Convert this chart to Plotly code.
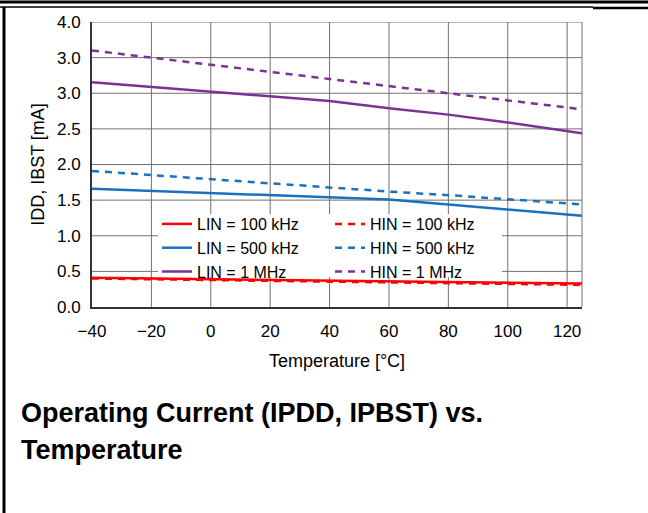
import plotly.graph_objects as go

# ---- data ----
temps = [-40, -20, 0, 20, 40, 60, 80, 100, 120, 125]
lin_100k = [0.41, 0.40, 0.39, 0.38, 0.37, 0.36, 0.35, 0.34, 0.33, 0.33]
hin_100k = [0.40, 0.39, 0.38, 0.37, 0.36, 0.35, 0.34, 0.33, 0.32, 0.31]
lin_500k = [1.66, 1.63, 1.60, 1.57, 1.54, 1.51, 1.44, 1.37, 1.30, 1.28]
hin_500k = [1.91, 1.85, 1.80, 1.74, 1.68, 1.62, 1.57, 1.51, 1.45, 1.44]
lin_1m = [3.155, 3.09, 3.03, 2.96, 2.89, 2.79, 2.70, 2.59, 2.47, 2.44]
hin_1m = [3.60, 3.50, 3.40, 3.31, 3.20, 3.10, 3.00, 2.90, 2.80, 2.77]

y_tickvals = [0.0, 0.5, 1.0, 1.5, 2.0, 2.5, 3.0, 3.5, 4.0]
y_ticktext = ["0.0", "0.5", "1.0", "1.5", "2.0", "2.5", "3.0", "3.0", "4.0"]
x_tickvals = [-40, -20, 0, 20, 40, 60, 80, 100, 120]
x_ticktext = ["\u221240", "\u221220", "0", "20", "40", "60", "80", "100", "120"]

series = [
    ("LIN = 100 kHz", lin_100k, "#ff0000", "solid"),
    ("HIN = 100 kHz", hin_100k, "#ff0000", "7px,6px"),
    ("LIN = 500 kHz", lin_500k, "#1a72bd", "solid"),
    ("HIN = 500 kHz", hin_500k, "#1a72bd", "7px,6px"),
    ("LIN = 1 MHz", lin_1m, "#7b3294", "solid"),
    ("HIN = 1 MHz", hin_1m, "#7b3294", "7px,6px"),
]

FONT = "Liberation Sans, Arial, sans-serif"
GRID = "#707070"

fig = go.Figure()
for name, vals, color, dash in series:
    fig.add_trace(go.Scatter(x=temps, y=vals, mode="lines", name=name,
                             line=dict(color=color, width=2.5, dash=dash)))

# pixel geometry of the plot area
L, R, T, B = 92, 582, 22, 307
W, H = 648, 513
XMIN, XMAX, YMIN, YMAX = -40, 125, 0.0, 4.0
def px(x):
    return (x - L) / (R - L)
def py(y):
    return (B - y) / (B - T)
def dx(x):
    return XMIN + (x - L) * (XMAX - XMIN) / (R - L)
def dy(y):
    return YMIN + (B - y) * (YMAX - YMIN) / (B - T)

shapes = []
# grid lines at the tick positions (drawn as shapes so the legend box can hide them)
for xv in x_tickvals[1:]:
    shapes.append(dict(type="line", xref="x", yref="paper", x0=xv, x1=xv, y0=0, y1=1,
                       line=dict(color=GRID, width=1), layer="below"))
for yv in y_tickvals[1:]:
    shapes.append(dict(type="line", xref="paper", yref="y", x0=0, x1=1, y0=yv, y1=yv,
                       line=dict(color=GRID, width=1), layer="below"))
shapes += [
    # right edge of the frame
    dict(type="line", xref="paper", yref="paper", x0=1, x1=1, y0=0, y1=1,
         line=dict(color=GRID, width=1), layer="below"),
    # white legend background: hides the grid, below the curves
    dict(type="rect", xref="x", yref="y", x0=dx(158), x1=dx(502),
         y0=dy(277), y1=dy(214), fillcolor="white", line=dict(width=0),
         layer="below"),
    # page frame lines
    dict(type="line", xref="paper", yref="paper", x0=px(0), x1=px(W), y0=py(2), y1=py(2),
         line=dict(color="black", width=3)),
    dict(type="line", xref="paper", yref="paper", x0=px(0), x1=px(593), y0=py(7), y1=py(7),
         line=dict(color="black", width=1.5)),
    dict(type="line", xref="paper", yref="paper", x0=px(593), x1=px(W), y0=py(8), y1=py(8),
         line=dict(color="black", width=2.5)),
    dict(type="line", xref="paper", yref="paper", x0=px(4), x1=px(4), y0=py(7), y1=py(H),
         line=dict(color="black", width=3)),
]

annotations = [
    dict(text="<b>Operating Current (IPDD, IPBST) vs.</b>", xref="paper", yref="paper",
         x=px(19), y=py(413), xanchor="left", yanchor="middle", showarrow=False,
         font=dict(family=FONT, size=27, color="black")),
    dict(text="<b>Temperature</b>", xref="paper", yref="paper",
         x=px(19), y=py(450), xanchor="left", yanchor="middle", showarrow=False,
         font=dict(family=FONT, size=27, color="black")),
]

fig.update_layout(
    width=W, height=H,
    margin=dict(l=L, r=W - R, t=T, b=H - B, pad=0),
    paper_bgcolor="white", plot_bgcolor="white",
    font=dict(family=FONT, size=17, color="black"),
    shapes=shapes, annotations=annotations,
    legend=dict(orientation="h", x=px(157), y=py(207), xanchor="left", yanchor="top",
                bgcolor="rgba(0,0,0,0)", borderwidth=0, entrywidth=128,
                entrywidthmode="pixels", font=dict(family=FONT, size=16),
                tracegroupgap=0, itemwidth=30),
    xaxis=dict(range=[XMIN, XMAX], tickvals=x_tickvals, ticktext=x_ticktext,
               showgrid=False,
               showline=True, linecolor="#333333", linewidth=2, ticks="",
               zeroline=False, ticklabelstandoff=8,
               title=dict(text="Temperature [\u00b0C]", standoff=14, font=dict(size=18))),
    yaxis=dict(range=[YMIN, YMAX], tickvals=y_tickvals, ticktext=y_ticktext,
               showgrid=False,
               showline=True, linecolor="#333333", linewidth=2, ticks="",
               zeroline=False, ticklabelstandoff=6,
               title=dict(text="IDD, IBST [mA]", standoff=8, font=dict(size=18))),
)

fig.write_html("out.html", config={"displayModeBar": False},
               post_script="document.body.style.margin='0';")
